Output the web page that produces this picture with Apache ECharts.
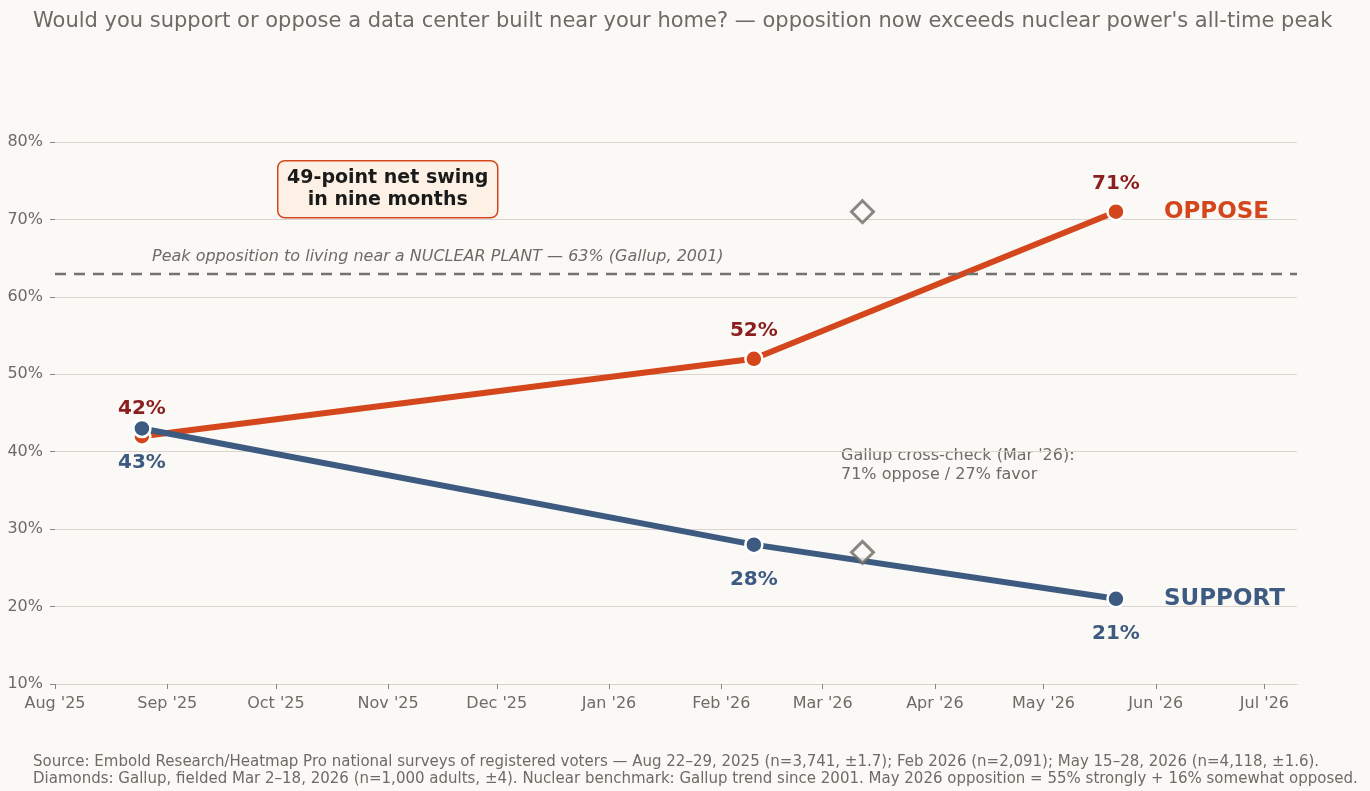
<!DOCTYPE html>
<html>
<head>
<meta charset="utf-8">
<script src="https://cdn.jsdelivr.net/npm/echarts@6/dist/echarts.min.js"></script>
<style>
  html, body { margin: 0; padding: 0; background: #fbf9f6; }
  #app { width: 1370px; height: 791px; }
</style>
</head>
<body>
<div id="app"></div>
<script>
// survey dates (midpoints of fieldwork)
var surveyDates = ['2025-08-25', '2026-02-10', '2026-05-21'];
var opposeValues = [42, 52, 71];
var supportValues = [43, 28, 21];
// Gallup cross-check
var gallupDate = '2026-03-12';
var gallupValues = [71, 27];
var nuclearPeak = 63;
var yTicks = [10, 20, 30, 40, 50, 60, 70, 80];
var monthNames = ['Jan', 'Feb', 'Mar', 'Apr', 'May', 'Jun', 'Jul', 'Aug', 'Sep', 'Oct', 'Nov', 'Dec'];

var FONT = 'DejaVu Sans';
var ORANGE = '#d4471d';
var DARKRED = '#8b1e1e';
var BLUE = '#3d5a80';
var GREY = '#6e6a66';
var BG = '#fbf9f6';

function pairs(xs, ys) {
    return ys.map(function (v, i) { return [xs[i], v]; });
}

var chart = echarts.init(document.getElementById('app'));

var option = {
    backgroundColor: BG,
    animation: false,
    textStyle: { fontFamily: FONT },
    grid: { left: 55, right: 73, top: 142, bottom: 107, containLabel: false },
    xAxis: {
        type: 'time',
        min: '2025-08-01',
        max: '2026-07-10',
        splitNumber: 12,
        minInterval: 28 * 86400000,
        maxInterval: 31 * 86400000,
        axisLine: { show: true, lineStyle: { color: '#d8d1ca', width: 1.2 } },
        axisTick: { show: true, length: 5, lineStyle: { color: '#8a8580' } },
        splitLine: { show: false },
        axisLabel: {
            color: GREY,
            fontSize: 16,
            fontFamily: FONT,
            margin: 12,
            showMaxLabel: false,
            formatter: function (value) {
                var d = new Date(value);
                return monthNames[d.getMonth()] + " '" + String(d.getFullYear()).slice(2);
            }
        }
    },
    yAxis: {
        type: 'value',
        min: yTicks[0],
        max: yTicks[yTicks.length - 1],
        interval: 10,
        axisLine: { show: false },
        axisTick: { show: true, length: 5, lineStyle: { color: '#8a8580' } },
        splitLine: { show: true, lineStyle: { color: '#dbd4ce', width: 1.2 } },
        axisLabel: {
            color: GREY,
            fontSize: 16,
            fontFamily: FONT,
            margin: 12,
            formatter: '{value}%'
        }
    },
    series: [
        {
            name: 'Oppose',
            type: 'line',
            data: pairs(surveyDates, opposeValues),
            z: 3,
            lineStyle: { color: ORANGE, width: 6 },
            itemStyle: { color: ORANGE, borderColor: '#ffffff', borderWidth: 2.5 },
            symbol: 'circle',
            symbolSize: 17,
            label: {
                show: true,
                position: 'top',
                distance: 8,
                color: DARKRED,
                fontSize: 20,
                fontWeight: 'bold',
                fontFamily: FONT,
                formatter: function (p) { return p.value[1] + '%'; }
            },
            endLabel: {
                show: true,
                formatter: 'OPPOSE',
                distance: 48,
                color: ORANGE,
                fontSize: 23,
                fontWeight: 'bold',
                fontFamily: FONT
            },
            markLine: {
                silent: true,
                symbol: ['none', 'none'],
                lineStyle: { color: '#727272', type: [11, 8], width: 2.3 },
                label: { show: false },
                data: [{ yAxis: nuclearPeak }]
            }
        },
        {
            name: 'Support',
            type: 'line',
            data: pairs(surveyDates, supportValues),
            z: 4,
            lineStyle: { color: BLUE, width: 6 },
            itemStyle: { color: BLUE, borderColor: '#ffffff', borderWidth: 2.5 },
            symbol: 'circle',
            symbolSize: 17,
            label: {
                show: true,
                position: 'bottom',
                distance: 15,
                color: BLUE,
                fontSize: 20,
                fontWeight: 'bold',
                fontFamily: FONT,
                formatter: function (p) { return p.value[1] + '%'; }
            },
            endLabel: {
                show: true,
                formatter: 'SUPPORT',
                distance: 48,
                color: BLUE,
                fontSize: 23,
                fontWeight: 'bold',
                fontFamily: FONT
            }
        },
        {
            name: 'Gallup',
            type: 'scatter',
            data: gallupValues.map(function (v) { return [gallupDate, v]; }),
            z: 5,
            symbol: 'diamond',
            symbolSize: [22, 22],
            itemStyle: { color: BG, borderColor: '#6e6a66', borderWidth: 3 }
        }
    ],
    graphic: [
        {
            type: 'text',
            left: 33,
            top: 11,
            style: {
                text: "Would you support or oppose a data center built near your home? \u2014 opposition now exceeds nuclear power's all-time peak",
                fill: GREY,
                font: '21px "DejaVu Sans"'
            }
        },
        {
            type: 'text',
            left: 152,
            top: 249,
            style: {
                text: 'Peak opposition to living near a NUCLEAR PLANT \u2014 63% (Gallup, 2001)',
                fill: GREY,
                font: 'italic 16px "DejaVu Sans"'
            }
        },
        {
            type: 'text',
            left: 841,
            top: 446,
            style: {
                text: "Gallup cross-check (Mar '26):\n71% oppose / 27% favor",
                fill: GREY,
                font: '16px "DejaVu Sans"',
                lineHeight: 19
            }
        },
        {
            type: 'group',
            left: 277,
            top: 160,
            children: [
                {
                    type: 'rect',
                    shape: { x: 0, y: 0, width: 220, height: 57, r: 7 },
                    style: { fill: '#fdf1e6', stroke: ORANGE, lineWidth: 1.5 }
                },
                {
                    type: 'text',
                    x: 110,
                    y: 28.5,
                    style: {
                        text: '49-point net swing\nin nine months',
                        fill: '#1a1a1a',
                        font: 'bold 19px "DejaVu Sans"',
                        lineHeight: 22,
                        align: 'center',
                        verticalAlign: 'middle'
                    }
                }
            ]
        },
        {
            type: 'text',
            left: 33,
            top: 754,
            style: {
                text: 'Source: Embold Research/Heatmap Pro national surveys of registered voters \u2014 Aug 22\u201329, 2025 (n=3,741, \u00b11.7); Feb 2026 (n=2,091); May 15\u201328, 2026 (n=4,118, \u00b11.6).\nDiamonds: Gallup, fielded Mar 2\u201318, 2026 (n=1,000 adults, \u00b14). Nuclear benchmark: Gallup trend since 2001. May 2026 opposition = 55% strongly + 16% somewhat opposed.',
                fill: GREY,
                font: '15px "DejaVu Sans"',
                lineHeight: 16.5
            }
        }
    ]
};

chart.setOption(option);
</script>
</body>
</html>
